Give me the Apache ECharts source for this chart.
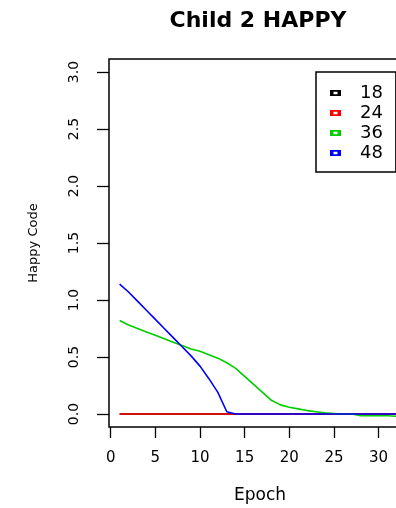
<!DOCTYPE html>
<html>
<head>
<meta charset="utf-8">
<script src="https://cdn.jsdelivr.net/npm/echarts@6/dist/echarts.min.js"></script>
<style>html,body{margin:0;padding:0;background:#fff;}#c{width:396px;height:508px;}</style>
</head>
<body>
<div id="c"></div>
<script>
var epochs = [1,2,3,4,5,6,7,8,9,10,11,12,13,14,15,16,17,18,19,20,21,22,23,24,25,26,27,28,29,30,31,32,33,34];
var s18 = [0,0,0,0,0,0,0,0,0,0,0,0,0,0,0,0,0,0,0,0,0,0,0,0,0,0,0,0,0,0,0,0,0,0];
var s24 = [0,0,0,0,0,0,0,0,0,0,0,0,0,0,0,0,0,0,0,0,0,0,0,0,0,0,0,0,0,0,0,0,0,0];
var s36 = [0.82,0.78,0.75,0.72,0.69,0.66,0.63,0.60,0.57,0.55,0.52,0.49,0.45,0.40,0.33,0.26,0.19,0.12,0.08,0.06,0.045,0.03,0.02,0.01,0.005,0,0,-0.015,-0.015,-0.015,-0.015,-0.02,-0.02,-0.02];
var s48 = [1.14,1.07,0.99,0.91,0.83,0.75,0.67,0.59,0.51,0.42,0.31,0.19,0.02,0,0,0,0,0,0,0,0,0,0,0,0,0,0,0,0,0,0,0,0,0];
var seriesNames = ['18','24','36','48'];
var seriesColors = ['#000000','#ff0000','#00cd00','#0000ff'];
var xTicks = [0,5,10,15,20,25,30];
var yTicks = [0,0.5,1,1.5,2,2.5,3];

function pairs(v){ return epochs.map(function(e,i){ return [e, v[i]]; }); }
var allData = [s18, s24, s36, s48];
var icon = 'path://M0,0H11V6H0Z M3.5,1.8V4.2H7.5V1.8Z';

var chart = echarts.init(document.getElementById('c'), null, {renderer:'canvas'});
chart.setOption({
  animation: false,
  backgroundColor: '#fff',
  title: {
    text: 'Child 2 HAPPY',
    left: 258, top: 10, textAlign: 'center', padding: 0,
    textStyle: {fontFamily: 'DejaVu Sans', fontWeight: 'bold', fontSize: 22, color: '#000'}
  },
  legend: {
    orient: 'vertical',
    left: 316, top: 72,
    padding: [12, 13, 10, 14],
    itemGap: 2,
    itemWidth: 11, itemHeight: 6,
    borderColor: '#000', borderWidth: 1.5,
    icon: icon,
    data: seriesNames,
    textStyle: {fontFamily: 'DejaVu Sans', fontSize: 18, color: '#000', lineHeight: 17, padding: [0,0,0,14]}
  },
  grid: {
    left: 109, top: 59, right: -15, bottom: 81,
    containLabel: false, outerBoundsMode: 'none',
    show: true, borderColor: '#000', borderWidth: 1.5, backgroundColor: 'transparent'
  },
  xAxis: {
    type: 'value', min: -0.19, max: 33.63,
    axisLine: {show: false, onZero: false},
    splitLine: {show: false},
    axisTick: {show: true, length: 11, customValues: xTicks, lineStyle: {color: '#000', width: 1.3}},
    axisLabel: {customValues: xTicks, margin: 24, fontFamily: 'DejaVu Sans', fontSize: 15, color: '#000'},
    name: 'Epoch', nameLocation: 'middle', nameGap: 60,
    nameTextStyle: {fontFamily: 'DejaVu Sans', fontSize: 17, color: '#000'}
  },
  yAxis: {
    type: 'value', min: -0.114, max: 3.114,
    axisLine: {show: false, onZero: false},
    splitLine: {show: false},
    axisTick: {show: true, length: 12, customValues: yTicks, lineStyle: {color: '#000', width: 1.3}},
    axisLabel: {customValues: yTicks, rotate: 90, margin: 28, fontFamily: 'DejaVu Sans', fontSize: 14, color: '#000',
      formatter: function(v){ return v.toFixed(1); }},
    name: 'Happy Code', nameLocation: 'middle', nameGap: 69,
    nameTextStyle: {fontFamily: 'DejaVu Sans', fontSize: 13, color: '#000'}
  },
  series: seriesNames.map(function(n, i){
    return {
      name: n, type: 'line', data: pairs(allData[i]),
      showSymbol: false, symbol: 'none', clip: true,
      itemStyle: {color: seriesColors[i]},
      lineStyle: {color: seriesColors[i], width: 1.6},
      z: 2 + i
    };
  })
});
</script>
</body>
</html>
